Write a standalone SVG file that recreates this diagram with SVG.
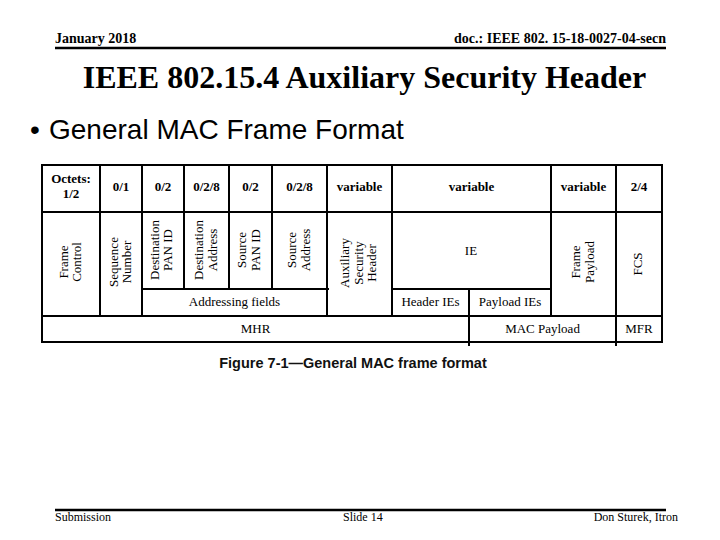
<svg xmlns="http://www.w3.org/2000/svg" width="720" height="540" viewBox="0 0 720 540">
<style>
.hdr{font-family:"Liberation Serif","Times New Roman",serif;font-weight:bold;font-size:14px;fill:#000}
.ftr{font-family:"Liberation Serif","Times New Roman",serif;font-size:12px;fill:#000}
.title{font-family:"Liberation Serif","Times New Roman",serif;font-weight:bold;font-size:32px;fill:#000}
.bullet{font-family:"Liberation Sans",Arial,sans-serif;font-size:28px;fill:#000}
.cap{font-family:"Liberation Sans",Arial,sans-serif;font-weight:bold;font-size:14.5px;fill:#111}
.oct{font-family:"Liberation Serif","Times New Roman",serif;font-weight:bold;font-size:13px;fill:#000;text-anchor:middle}
.lbl{font-family:"Liberation Serif","Times New Roman",serif;font-size:13px;fill:#000;text-anchor:middle}
.grid line{stroke:#000;stroke-width:2;stroke-linecap:square}
.rule{stroke:#000;stroke-width:2.5}
</style>
<rect width="720" height="540" fill="#fff"/>

<g id="page-header">
<text class="hdr" x="55" y="43">January 2018</text>
<text class="hdr" x="666" y="43" text-anchor="end">doc.: IEEE 802. 15-18-0027-04-secn</text>
<line class="rule" x1="55" y1="48" x2="666" y2="48"/>
</g>

<g id="title">
<text class="title" x="364.5" y="88" text-anchor="middle">IEEE 802.15.4 Auxiliary Security Header</text>
</g>

<g id="bullet">
<text class="bullet" x="30" y="139">•</text>
<text class="bullet" x="49" y="139">General MAC Frame Format</text>
</g>

<g id="frame-table">
<rect x="42" y="165" width="620" height="177" fill="#fff" stroke="#000" stroke-width="2"/>
<g class="grid">
<line x1="42" y1="212" x2="662" y2="212"/>
<line x1="142" y1="289" x2="328" y2="289"/>
<line x1="392" y1="289" x2="551" y2="289"/>
<line x1="42" y1="316" x2="662" y2="316"/>
<line x1="100" y1="165" x2="100" y2="316"/>
<line x1="142" y1="165" x2="142" y2="316"/>
<line x1="184" y1="165" x2="184" y2="289"/>
<line x1="229" y1="165" x2="229" y2="289"/>
<line x1="272" y1="165" x2="272" y2="289"/>
<line x1="327" y1="165" x2="327" y2="316"/>
<line x1="392" y1="165" x2="392" y2="316"/>
<line x1="469" y1="289" x2="469" y2="345"/>
<line x1="551" y1="165" x2="551" y2="316"/>
<line x1="616" y1="165" x2="616" y2="345"/>
</g>
</g>

<g id="octets-row">
<text class="oct" x="71" y="183">Octets:</text>
<text class="oct" x="71" y="198">1/2</text>
<text class="oct" x="121" y="191">0/1</text>
<text class="oct" x="163" y="191">0/2</text>
<text class="oct" x="206.5" y="191">0/2/8</text>
<text class="oct" x="250.5" y="191">0/2</text>
<text class="oct" x="299.5" y="191">0/2/8</text>
<text class="oct" x="359.5" y="191">variable</text>
<text class="oct" x="471.5" y="191">variable</text>
<text class="oct" x="583.5" y="191">variable</text>
<text class="oct" x="639" y="191">2/4</text>
</g>

<g id="frame-control">
<text class="lbl" transform="translate(67.5,262) rotate(-90)">Frame</text>
<text class="lbl" transform="translate(81,262) rotate(-90)">Control</text>
</g>
<g id="sequence-number">
<text class="lbl" transform="translate(117.5,262) rotate(-90)">Sequence</text>
<text class="lbl" transform="translate(131,262) rotate(-90)">Number</text>
</g>
<g id="destination-pan-id">
<text class="lbl" transform="translate(158.5,250) rotate(-90)">Destination</text>
<text class="lbl" transform="translate(172,250) rotate(-90)">PAN ID</text>
</g>
<g id="destination-address">
<text class="lbl" transform="translate(203,250) rotate(-90)">Destination</text>
<text class="lbl" transform="translate(216.5,250) rotate(-90)">Address</text>
</g>
<g id="source-pan-id">
<text class="lbl" transform="translate(246,250) rotate(-90)">Source</text>
<text class="lbl" transform="translate(259.5,250) rotate(-90)">PAN ID</text>
</g>
<g id="source-address">
<text class="lbl" transform="translate(296,250) rotate(-90)">Source</text>
<text class="lbl" transform="translate(309.5,250) rotate(-90)">Address</text>
</g>
<g id="auxiliary-security-header">
<text class="lbl" transform="translate(349,263) rotate(-90)">Auxiliary</text>
<text class="lbl" transform="translate(362.5,263) rotate(-90)">Security</text>
<text class="lbl" transform="translate(376,263) rotate(-90)">Header</text>
</g>
<g id="ie">
<text class="lbl" x="471" y="255">IE</text>
</g>
<g id="frame-payload">
<text class="lbl" transform="translate(580,262) rotate(-90)">Frame</text>
<text class="lbl" transform="translate(593.5,262) rotate(-90)">Payload</text>
</g>
<g id="fcs">
<text class="lbl" transform="translate(642,264) rotate(-90)">FCS</text>
</g>
<g id="addressing-fields">
<text class="lbl" x="234.5" y="306">Addressing fields</text>
</g>
<g id="header-ies">
<text class="lbl" x="430.5" y="306">Header IEs</text>
</g>
<g id="payload-ies">
<text class="lbl" x="510" y="306">Payload IEs</text>
</g>
<g id="mhr">
<text class="lbl" x="255.5" y="333">MHR</text>
</g>
<g id="mac-payload">
<text class="lbl" x="542.5" y="333">MAC Payload</text>
</g>
<g id="mfr">
<text class="lbl" x="639" y="333">MFR</text>
</g>

<g id="caption">
<text class="cap" x="353" y="368" text-anchor="middle">Figure 7-1—General MAC frame format</text>
</g>

<g id="page-footer">
<line class="rule" x1="55" y1="510" x2="666" y2="510"/>
<text class="ftr" x="55" y="521">Submission</text>
<text class="ftr" x="343" y="521">Slide 14</text>
<text class="ftr" x="678" y="521" text-anchor="end">Don Sturek, Itron</text>
</g>

<g id="connectors"></g>
</svg>
